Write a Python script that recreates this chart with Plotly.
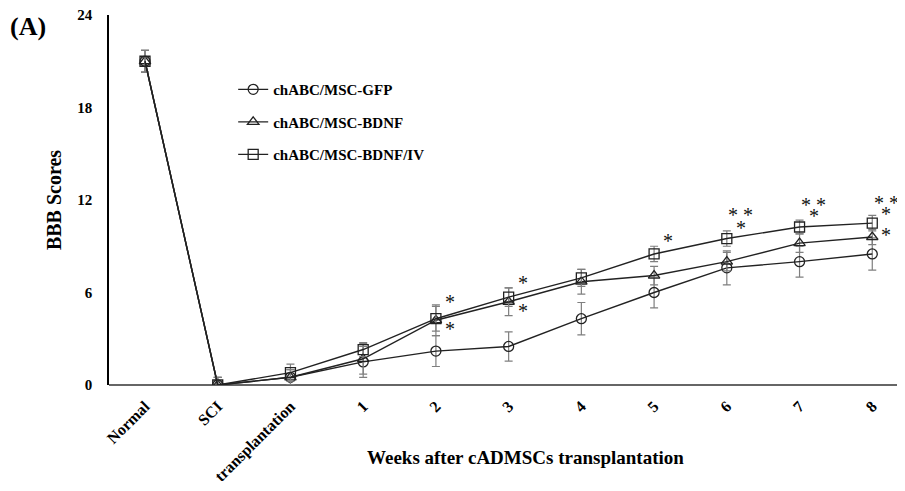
import plotly.graph_objects as go

categories = ["Normal", "SCI", "transplantation", "1", "2", "3", "4", "5", "6", "7", "8"]

gfp = [21.0, 0.0, 0.5, 1.5, 2.2, 2.5, 4.3, 6.0, 7.6, 8.0, 8.5]
gfp_err = [0.7, 0.5, 0.5, 1.0, 1.0, 0.95, 1.05, 1.0, 1.1, 1.0, 1.05]

bdnf = [21.0, 0.0, 0.5, 1.7, 4.2, 5.4, 6.7, 7.1, 8.0, 9.2, 9.6]
bdnf_err = [0.7, 0.5, 0.5, 1.0, 1.0, 0.9, 0.8, 0.6, 0.6, 0.6, 0.5]

iv = [21.0, 0.0, 0.8, 2.3, 4.3, 5.7, 6.95, 8.5, 9.5, 10.25, 10.5]
iv_err = [0.7, 0.5, 0.55, 0.45, 0.8, 0.6, 0.55, 0.5, 0.5, 0.45, 0.5]

series_names = ["chABC/MSC-GFP", "chABC/MSC-BDNF", "chABC/MSC-BDNF/IV"]

# significance marks
sig_iv_single = ["2", "3", "5", "6", "7", "8"]
sig_iv_double = ["6", "7", "8"]
sig_bdnf = ["2", "3", "8"]

# pixel offsets for the marks (styling)
single_shift = {"2": 4, "3": 1, "5": 0, "6": -2, "7": -2, "8": -4}
double_shift = {"6": 11, "7": 9, "8": 7}
bdnf_shift = {"2": 4, "3": 4, "8": 15}

FONT = "Liberation Serif, Times New Roman, serif"
LINE = "#222222"
ERR = "#7f7f7f"

fig = go.Figure()
symbols = ["circle-open", "triangle-up-open", "square-open"]
for name, vals, errs, sym in zip(series_names, [gfp, bdnf, iv], [gfp_err, bdnf_err, iv_err], symbols):
    fig.add_trace(go.Scatter(
        x=categories, y=vals, name=name, mode="lines+markers",
        legendgroup=name,
        line=dict(color=LINE, width=1.4),
        marker=dict(symbol=sym, size=10, color=LINE, line=dict(width=1.3, color=LINE)),
        error_y=dict(type="data", array=errs, visible=True, color=ERR, thickness=1.2, width=4),
    ))

star_font = dict(family=FONT, size=20, color="#111111")
ann = []
for cat in sig_iv_single:
    i = categories.index(cat)
    ann.append(dict(x=i, y=iv[i], xref="x", yref="y", text="*", showarrow=False,
                    xanchor="center", yanchor="bottom", xshift=14, yshift=single_shift[cat],
                    font=star_font))
for cat in sig_iv_double:
    i = categories.index(cat)
    ann.append(dict(x=i, y=iv[i], xref="x", yref="y", text="* *", showarrow=False,
                    xanchor="center", yanchor="bottom", xshift=14, yshift=double_shift[cat],
                    font=star_font))
for cat in sig_bdnf:
    i = categories.index(cat)
    ann.append(dict(x=i, y=bdnf[i], xref="x", yref="y", text="*", showarrow=False,
                    xanchor="center", yanchor="top", xshift=14, yshift=bdnf_shift[cat],
                    font=star_font))

ann.append(dict(x=-0.127, y=0.97, xref="paper", yref="paper", text="(A)", showarrow=False,
                xanchor="left", yanchor="middle",
                font=dict(family=FONT, size=26, color="black", weight="bold")))
ann.append(dict(x=0.523, y=-0.195, xref="paper", yref="paper", yanchor="middle",
                text="Weeks after cADMSCs transplantation", showarrow=False,
                font=dict(family=FONT, size=19, color="black", weight="bold")))

fig.update_layout(
    width=897, height=483,
    margin=dict(l=101, r=0, t=7, b=106),
    paper_bgcolor="white", plot_bgcolor="white",
    font=dict(family=FONT, color="black"),
    showlegend=True,
    legend=dict(x=0.156, y=0.843, xanchor="left", yanchor="top", bgcolor="rgba(0,0,0,0)",
                font=dict(family=FONT, size=15, color="black", weight="bold"), tracegroupgap=10,
                itemwidth=30),
    annotations=ann,
    xaxis=dict(type="category", categoryorder="array", categoryarray=categories,
               range=[-0.495, 10.45], showgrid=False, zeroline=False, automargin=False,
               showline=False, ticks="", tickangle=-45, ticklabelstandoff=8,
               ticklabeloverflow="allow",
               tickfont=dict(family=FONT, size=16, color="black", weight="bold")),
    yaxis=dict(range=[0, 24], tickvals=[0, 6, 12, 18, 24], showgrid=False, zeroline=True,
               zerolinecolor="#666666", zerolinewidth=2, automargin=False,
               showline=True, linecolor="black", linewidth=1.5, ticks="",
               ticklabelstandoff=12, ticklabeloverflow="allow",
               tickfont=dict(family=FONT, size=15, color="black", weight="bold"),
               title=dict(text="BBB Scores", standoff=10,
                          font=dict(family=FONT, size=20, color="black", weight="bold"))),
)

fig.write_html("out.html")
